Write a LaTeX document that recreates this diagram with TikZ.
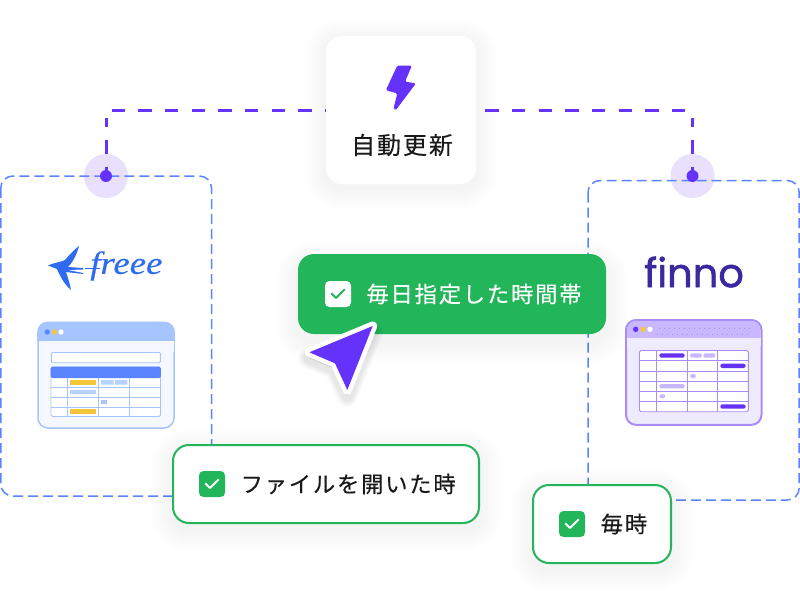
\documentclass[tikz,border=0pt]{standalone}
\usepackage{fontspec}
\newfontfamily\jpf[LetterSpace=8,FakeBold=0.25]{Noto Sans CJK JP}
\newfontfamily\logof[FakeBold=1.4]{Poppins}
\newfontfamily\scriptf[FakeBold=0.4]{Liberation Serif}
\definecolor{grn}{HTML}{22B55A}
\definecolor{blu}{HTML}{5B85FF}
\definecolor{pur}{HTML}{6432FA}
\definecolor{halo}{HTML}{E8E0FD}
\definecolor{ink}{HTML}{1A1A1A}
\definecolor{lbl}{HTML}{A6C5FF}
\definecolor{lbg}{HTML}{F5F8FE}
\definecolor{yel}{HTML}{F2C638}
\definecolor{lpl}{HTML}{C9B8FF}
\definecolor{pbg}{HTML}{EFEBFF}
\definecolor{pbr}{HTML}{A98BFA}
\definecolor{fin}{HTML}{3B2A9F}
\definecolor{frb}{HTML}{2F6BF0}
\newcommand{\softshadow}[7]{% x1 y1 x2 y2 radius offset opacity
  \foreach \d in {2,4,...,22}
    \fill[black,opacity=#7,rounded corners=#5+\d]
      (#1-\d,#2-\d+#6) rectangle (#3+\d,#4+\d+#6);}
\tikzset{
  x=1pt,y=-1pt,
  dashbox/.style={draw=blu,line width=1.5pt,dash pattern=on 10pt off 5pt,rounded corners=12pt},
  flow/.style={draw=pur,line width=3pt,dash pattern=on 13.33pt off 13.33pt},
  halodot/.style={circle,fill=halo,minimum size=44pt,inner sep=0},
  coredot/.style={circle,fill=pur,minimum size=12pt,inner sep=0},
  card/.style={rectangle,rounded corners=16pt,inner sep=0},
  jptext/.style={inner sep=0,anchor=west,font=\jpf\fontsize{22.3}{26}\selectfont},
  checkbox/.style={rectangle,rounded corners=4.5pt,minimum size=26pt,inner sep=0},
  win/.style={line width=1.5pt,rounded corners=10pt},
  gridline/.style={line width=.8pt},
  pill/.style={rounded corners=2.2pt},
}
\newcommand{\tick}[2]{\draw[#2,line width=1.9pt,line cap=round,line join=round]
  ([xshift=-6.5pt,yshift=0.5pt]#1.center) -- ([xshift=-2pt,yshift=-4pt]#1.center) -- ([xshift=6.5pt,yshift=4.5pt]#1.center);}
\begin{document}
\begin{tikzpicture}
\useasboundingbox (0,0) rectangle (800,600);
\fill[white] (0,0) rectangle (800,600);
% halos below the dashed boxes
\node[halodot] (hl) at (106,176) {};
\node[halodot] (hr) at (692.5,176) {};
% dashed system boxes
\draw[dashbox] (0.8,176) rectangle (211.5,496);
\draw[dashbox] (588,180.5) rectangle (799.2,500);
% central card
\softshadow{326}{36}{476}{184}{16}{4}{.0035}
\node[card,fill=white,minimum width=150pt,minimum height=148pt] (auto) at (401,110) {};
\coordinate (cl) at (106,118);
\coordinate (cr) at (692.5,118);
\draw[flow,dash phase=4.3pt] (hl.center) -- (cl);
\draw[flow,dash phase=4.3pt] (hr.center) -- (cr);
\draw[flow,dash phase=12.4pt,rounded corners=5pt] (auto.west) -| (cl);
\draw[flow,dash phase=17.6pt,rounded corners=5pt] (auto.east) -| (cr);
\node[coredot] (dl) at (hl) {};
\node[coredot] (dr) at (hr) {};
\node[card,fill=white,minimum width=150pt,minimum height=148pt] at (auto) {};
% bolt
\fill[pur,rounded corners=1.6pt] (397.3,65.5) -- (412,65.5) -- (405,81.7) -- (416,83.3) -- (395.5,110.5) -- (393.5,108.5) -- (397.3,93.3) -- (385.8,90.3) -- cycle;
\node[inner sep=0,font=\jpf\fontsize{24}{26}\selectfont,text=ink] (autot) at (402,145) {自動更新};
% freee logo
\fill[frb] (48,265.5) .. controls (56,262) and (62,262) .. (65,260) .. controls (69,255) and (74,250) .. (79,246) .. controls (77,254) and (73,262) .. (68,267) -- (83,268) -- (83,269.5) -- (68,270) -- (83,273) -- (83,274) -- (66,272) .. controls (68,278) and (70,284) .. (71,290) .. controls (64,284) and (60,276) .. (57,269) -- cycle;
\fill[frb] (85,267.5) rectangle (100,269);
\node[inner sep=0,anchor=west,text=frb,xscale=1.15,transform shape,font=\scriptf\itshape\fontsize{32}{34}\selectfont] (freee) at (90,266) {freee};
% left window
\filldraw[win,draw=lbl,fill=lbg] (38,322.5) rectangle (174,428);
\fill[lbl,rounded corners=10pt] (37.3,321.7) rectangle (174.7,350);
\fill[lbg] (38.5,340.7) rectangle (173.5,352);
\fill[blu] (47.3,332) circle (2.7);
\fill[yel] (54.3,332) circle (2.7);
\fill[white] (61,332) circle (2.7);
\filldraw[draw=lbl,fill=white,line width=.9pt,rounded corners=1pt] (51.3,352.5) rectangle (160.3,362.7);
\filldraw[draw=lbl,fill=white,line width=.9pt,rounded corners=1.5pt] (51,367) rectangle (160.5,416.5);
\fill[blu,rounded corners=1.5pt] (50.6,366.7) rectangle (160.9,378);
\foreach \yy in {387.3,397.3,407.3}\draw[gridline,draw=lbl] (51,\yy) -- (160.5,\yy);
\foreach \xx in {67.3,98.3,129.3}\draw[gridline,draw=lbl] (\xx,378) -- (\xx,416.5);
\fill[yel] (70,380) rectangle (96,384.7);
\fill[lbl!80] (101,380) rectangle (113.7,384.7) (115,380) rectangle (127.3,384.7);
\fill[lbl!80] (70,390) rectangle (96,394.3);
\fill[lbl] (101,400) rectangle (107,404);
\fill[yel] (70,409.3) rectangle (96,414);
% finno logo
\node[inner sep=0,text=fin,font=\logof\fontsize{40}{42}\selectfont] (finno) at (694,272) {finno};
% right window
\filldraw[win,line width=2pt,draw=pbr,fill=pbg] (626,320) rectangle (761.5,424.8);
\fill[lpl,rounded corners=9.5pt] (627,321) rectangle (760.5,345);
\fill[pbg] (627,338.3) rectangle (760.5,346);
\fill[pur] (635.7,329.3) circle (2.7);
\fill[yel] (643,329.3) circle (2.7);
\fill[white] (650,329.3) circle (2.7);
\draw[pbr,line width=.7pt,dash pattern=on .8pt off 4.2pt] (659,328) -- (752,328) (657,334) -- (752,334);
\filldraw[draw=pbr,fill=white,line width=.9pt,rounded corners=1.5pt] (639.5,350.5) rectangle (748.3,411.7);
\foreach \yy in {360.3,371,381.3,391.3,401.3}\draw[gridline,draw=pbr] (639.5,\yy) -- (748.3,\yy);
\foreach \xx in {656.3,687.3,717.3}\draw[gridline,draw=pbr] (\xx,350.5) -- (\xx,411.7);
\fill[pill,pur] (659.3,353.3) rectangle (684.7,357.7);
\fill[pill,lpl] (690,353.3) rectangle (702,357.7) (703.3,353.3) rectangle (715.3,357.7);
\fill[pill,pur] (720.3,363.7) rectangle (745.7,368);
\fill[pill,lpl] (690,374) rectangle (696,378);
\fill[pill,lpl] (659.3,384) rectangle (684.7,388.3);
\fill[pill,lpl] (659.3,394.3) rectangle (665.3,398.3);
\fill[pill,pur] (720.3,404.3) rectangle (745.7,408.7);
% green card
\softshadow{298}{254}{606}{334}{16}{8}{.005}
\node[card,fill=grn,minimum width=308pt,minimum height=80pt] (daily) at (452,294) {};
\node[checkbox,fill=white] (cd) at (338,294) {};
\tick{cd}{grn}
\node[jptext,text=white] (dailyt) at (366.3,294) {毎日指定した時間帯};
% file card
\softshadow{172}{444}{480}{524}{16}{6}{.004}
\node[card,fill=white,draw=grn,line width=2pt,minimum width=306pt,minimum height=78pt] (file) at (326,484) {};
\node[checkbox,fill=grn] (cf) at (212,484) {};
\tick{cf}{white}
\node[jptext,text=ink] (filet) at (240.5,484) {ファイルを開いた時};
% every-time card
\softshadow{532}{484}{672}{564}{16}{6}{.004}
\node[card,fill=white,draw=grn,line width=2pt,minimum width=138pt,minimum height=78pt] (every) at (602,524) {};
\node[checkbox,fill=grn] (ce) at (572,524) {};
\tick{ce}{white}
\node[jptext,text=ink] (everyt) at (600.5,524) {毎時};
% cursor
\foreach \d in {2,4,...,12}
  \draw[black,opacity=.016,line width=9pt+\d*1pt,line join=round,fill=black] (372.7,332) -- (309.3,358.3) -- (335,369.3) -- (347.3,396) -- cycle;
\filldraw[pur,draw=white,line width=9pt,line join=round] (372.7,326) -- (309.3,352.3) -- (335,363.3) -- (347.3,390) -- cycle;
\fill[pur,rounded corners=.5pt] (372.7,326) -- (309.3,352.3) -- (335,363.3) -- (347.3,390) -- cycle;
\end{tikzpicture}
\end{document}
